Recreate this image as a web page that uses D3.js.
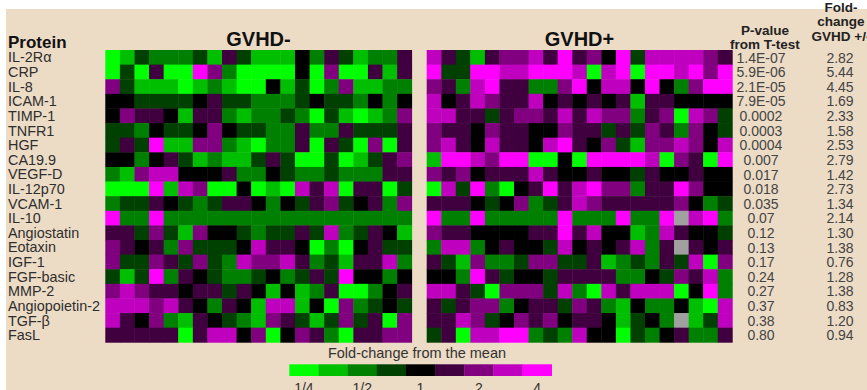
<!DOCTYPE html>
<html lang="en">
<head>
<meta charset="UTF-8">
<title>GVHD protein heatmap</title>
<script src="https://d3js.org/d3.v7.min.js"></script>
<style>
  body { margin: 0; background: #fff; }
  svg { display: block; font-family: "Liberation Sans", Arial, sans-serif; }
</style>
</head>
<body>
<svg id="chart"></svg>
<script>
// rows of the heatmap
const proteins = ["IL-2R\u03b1", "CRP", "IL-8", "ICAM-1", "TIMP-1", "TNFR1", "HGF", "CA19.9", "VEGF-D",
  "IL-12p70", "VCAM-1", "IL-10", "Angiostatin", "Eotaxin", "IGF-1", "FGF-basic", "MMP-2",
  "Angiopoietin-2", "TGF-\u03b2", "FasL"];

const pValueLabels = ["1.4E-07", "5.9E-06", "2.1E-05", "7.9E-05", "0.0002", "0.0003", "0.0004", "0.007",
  "0.017", "0.018", "0.035", "0.07", "0.12", "0.13", "0.17", "0.24", "0.27", "0.37", "0.38", "0.80"];

const foldChange = [2.82, 5.44, 4.45, 1.69, 2.33, 1.58, 2.53, 2.79, 1.42, 2.73, 1.34, 2.14, 1.30, 1.38,
  0.76, 1.28, 1.38, 0.83, 1.20, 0.94];

// one string per protein, one char per patient
// level 0 = 1/4 of mean, 4 = mean, 8 = 4x mean, x = missing
const gvhdNeg = [
  "013222315311142531225",
  "030500862000040600515",
  "631110121004130261122",
  "443333453322234332424",
  "465541552122320310126",
  "332433464332252253335",
  "353811662102250530605",
  "442453121135300301356",
  "216774445224322322255",
  "000817600401075705503",
  "233543235542435634526",
  "822822222222222222222",
  "553631644323353723541",
  "654526333475540204533",
  "633653632766752315572",
  "313825432234235384424",
  "676554553541412500245",
  "777675425417714062343",
  "754621543216531363506",
  "555550577460465205566"
];

const gvhdPos = [
  "753156675856483777765",
  "833887788870780887868",
  "652785522684774842688",
  "745765574545451554444",
  "775535665757662560763",
  "655465544655353652643",
  "675475547854631667647",
  "188768800408888706508",
  "656455575445443544544",
  "073820458578662558644",
  "555434623576555556423",
  "82282222282228228x782",
  "655444455857441275443",
  "27724544374545725x545",
  "531622366335123253706",
  "442853443555522436572",
  "775306663720757770482",
  "535662455365214224107",
  "55763465645541342x137",
  "350778823274403245225"
];

const legendSteps = [0, 1, 2, 3, 4, 5, 6, 7, 8];
const legendTickSteps = [0, 2, 4, 6, 8];
const legendTicks = ["1/4", "1/2", "1", "2", "4"];

const width = 867;
const height = 390;

const svg = d3.select("#chart").attr("width", width).attr("height", height);

// paper background
svg.append("rect").attr("width", width).attr("height", height).attr("fill", "#fff");
svg.append("rect")
  .attr("x", 6).attr("y", 9)
  .attr("width", width - 6).attr("height", height - 9)
  .attr("fill", "#ecdbc5");

const color = d3.scaleLinear()
  .domain([0, 4, 8])
  .range(["#00ff00", "#000000", "#ff00ff"]);

const y = d3.scaleBand().domain(proteins).range([50, 342.3]);

const panels = [
  { title: "GVHD-", rows: gvhdNeg, x0: 105.3, x1: 411.7 },
  { title: "GVHD+", rows: gvhdPos, x0: 426.7, x1: 732.3 }
];

panels.forEach(p => {
  const nCols = p.rows[0].length;
  const x = d3.scaleBand().domain(d3.range(nCols)).range([p.x0, p.x1]);

  const cells = p.rows.flatMap((s, r) => s.split("").map((ch, c) => ({
    protein: proteins[r],
    col: c,
    level: ch === "x" ? null : +ch
  })));

  const g = svg.append("g");
  g.selectAll("rect")
    .data(cells)
    .enter().append("rect")
    .attr("x", d => x(d.col))
    .attr("y", d => y(d.protein))
    .attr("width", x.bandwidth() + 0.4)
    .attr("height", y.bandwidth() + 0.4)
    .attr("fill", d => d.level === null ? "#a0a0a0" : color(d.level));

  svg.append("text")
    .attr("x", (p.x0 + p.x1) / 2)
    .attr("y", 46)
    .attr("text-anchor", "middle")
    .attr("font-size", "20px")
    .attr("font-weight", "bold")
    .attr("fill", "#111")
    .text(p.title);
});

// protein names
svg.append("text")
  .attr("x", 8).attr("y", 47.5)
  .attr("font-size", "17px")
  .attr("font-weight", "bold")
  .attr("fill", "#111")
  .text("Protein");

svg.selectAll(".row-label")
  .data(proteins)
  .enter().append("text")
  .attr("class", "row-label")
  .attr("x", 8)
  .attr("y", d => y(d) + y.bandwidth() / 2)
  .attr("dy", "0.36em")
  .attr("font-size", "14.4px")
  .attr("fill", "#2e2e2e")
  .text(d => d);

// stats columns
const headers = [
  { x: 765, lines: ["P-value", "from T-test"], y0: 35 },
  { x: 841, lines: ["Fold-", "change", "GVHD +/-"], y0: 12 }
];
headers.forEach(h => {
  h.lines.forEach((l, i) => {
    svg.append("text")
      .attr("x", h.x)
      .attr("y", h.y0 + i * 14.3)
      .attr("text-anchor", "middle")
      .attr("font-size", "13.5px")
      .attr("font-weight", "bold")
      .attr("fill", "#222")
      .text(l);
  });
});

svg.selectAll(".pval")
  .data(pValueLabels)
  .enter().append("text")
  .attr("class", "pval")
  .attr("x", 761)
  .attr("y", (d, i) => y(proteins[i]) + y.bandwidth() / 2)
  .attr("dy", "0.38em")
  .attr("text-anchor", "middle")
  .attr("font-size", "14px")
  .attr("fill", "#444")
  .text(d => d);

svg.selectAll(".fold")
  .data(foldChange)
  .enter().append("text")
  .attr("class", "fold")
  .attr("x", 840)
  .attr("y", (d, i) => y(proteins[i]) + y.bandwidth() / 2)
  .attr("dy", "0.38em")
  .attr("text-anchor", "middle")
  .attr("font-size", "14px")
  .attr("fill", "#444")
  .text(d => d.toFixed(2));

// legend
const lx = d3.scaleBand().domain(legendSteps).range([289.3, 551.7]);

svg.append("text")
  .attr("x", 417).attr("y", 357.5)
  .attr("text-anchor", "middle")
  .attr("font-size", "14.5px")
  .attr("fill", "#333")
  .text("Fold-change from the mean");

svg.selectAll(".legend-box")
  .data(legendSteps)
  .enter().append("rect")
  .attr("class", "legend-box")
  .attr("x", d => lx(d))
  .attr("y", 364.3)
  .attr("width", lx.bandwidth() + 0.3)
  .attr("height", 11.7)
  .attr("fill", d => color(d));

svg.selectAll(".legend-tick")
  .data(legendTickSteps)
  .enter().append("text")
  .attr("class", "legend-tick")
  .attr("x", d => lx(d) + lx.bandwidth() / 2)
  .attr("y", 393)
  .attr("text-anchor", "middle")
  .attr("font-size", "14px")
  .attr("fill", "#333")
  .text((d, i) => legendTicks[i]);
</script>
</body>
</html>
